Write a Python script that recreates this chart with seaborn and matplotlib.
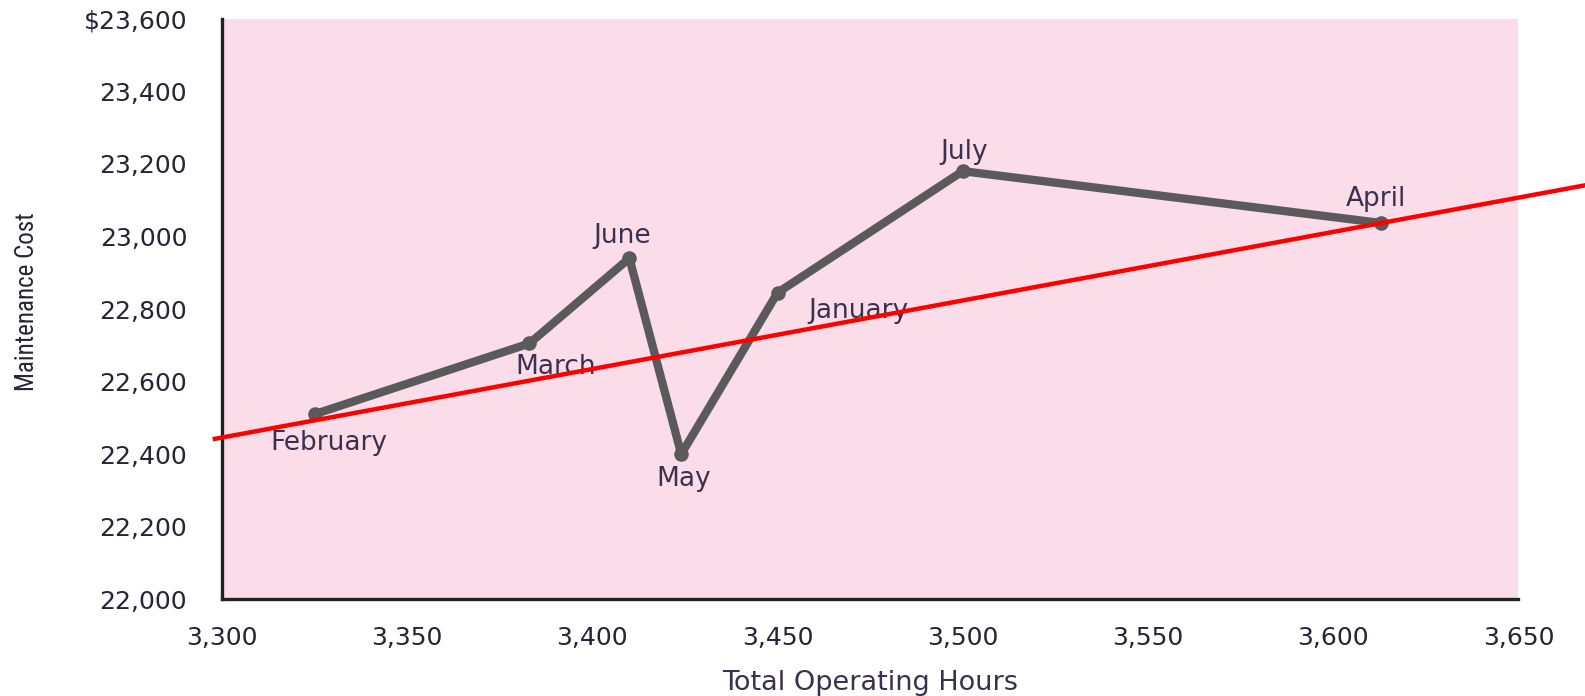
import matplotlib
matplotlib.use("Agg")
import matplotlib.pyplot as plt
import matplotlib.ticker as mticker
from matplotlib import font_manager
import pandas as pd
import seaborn as sns

# Monthly operating hours vs. maintenance cost
months = ["February", "March", "June", "May", "January", "July", "April"]
hours = [3325, 3383, 3410, 3424, 3450, 3500, 3613]
cost = [22510, 22705, 22940, 22400, 22845, 23180, 23037]

# Hand-fitted trend line (endpoints in data units)
trend_hours = [3297.5, 3668.5]
trend_cost = [22441, 23142]

x_ticks = [3300, 3350, 3400, 3450, 3500, 3550, 3600, 3650]
y_ticks = [22000, 22200, 22400, 22600, 22800, 23000, 23200, 23400, 23600]

# label offsets (points) for each month annotation
label_offsets = {
    "February": (10, -21),
    "March": (19, -17),
    "June": (-5, 16),
    "May": (2, -18),
    "January": (58, -13),
    "July": (1, 14),
    "April": (-4, 17),
}

sns.set_style("white")
plt.rcParams["font.family"] = ["DejaVu Sans"]

TEXT = "#262436"
LABEL = "#3a3050"
PINK = "#fbdde9"

# narrow face for the vertical axis title, when one is available
installed = {f.name for f in font_manager.fontManager.ttflist}
narrow = [n for n in ["Liberation Sans Narrow", "DejaVu Sans Condensed",
                      "Roboto Condensed", "Open Sans Condensed"] if n in installed]
ylabel_family = narrow + ["DejaVu Sans"]

df = pd.DataFrame({"month": months, "hours": hours, "cost": cost})

fig = plt.figure(figsize=(15.85, 6.96), dpi=100)
ax = fig.add_axes([0.140, 0.139, 0.818, 0.834])
ax.set_facecolor(PINK)

sns.lineplot(data=df, x="hours", y="cost", sort=True, ax=ax,
             color="#5a5a5a", linewidth=6, marker="o", markersize=10.5,
             markeredgewidth=0, solid_capstyle="round", solid_joinstyle="round",
             zorder=3)

for m, h, c in zip(months, hours, cost):
    dx, dy = label_offsets[m]
    ax.annotate(m, (h, c), xytext=(dx, dy), textcoords="offset points",
                ha="center", va="center", fontsize=19, color=LABEL, zorder=4)

ax.plot(trend_hours, trend_cost, color="#ff0000", linewidth=3.2,
        clip_on=False, zorder=5, solid_capstyle="butt")

ax.set_xlim(3300, 3650)
ax.set_ylim(22000, 23600)
ax.set_xticks(x_ticks)
ax.set_yticks(y_ticks)
ax.xaxis.set_major_formatter(mticker.FuncFormatter(lambda v, p: f"{v:,.0f}"))
ax.yaxis.set_major_formatter(mticker.FuncFormatter(
    lambda v, p: ("\\$" if v == 23600 else "") + f"{v:,.0f}"))

ax.tick_params(axis="y", direction="in", length=15, width=1.3, color="#444444",
               pad=25, labelsize=18, labelcolor=TEXT)
ax.tick_params(axis="x", direction="in", length=10, width=1.3, color="#444444",
               pad=19, labelsize=18, labelcolor=TEXT)

for side in ["top", "right"]:
    ax.spines[side].set_visible(False)
for side in ["left", "bottom"]:
    ax.spines[side].set_color("#222222")
    ax.spines[side].set_linewidth(2.4)

ax.set_xlabel("Total Operating Hours", fontsize=19.5, color=LABEL, labelpad=15)
ax.set_ylabel("Maintenance Cost", fontsize=18, color=TEXT,
              family=ylabel_family, fontstretch="condensed")
ax.yaxis.set_label_coords(-0.141, 0.512)

fig.savefig("out.png", dpi=100, facecolor="white")
